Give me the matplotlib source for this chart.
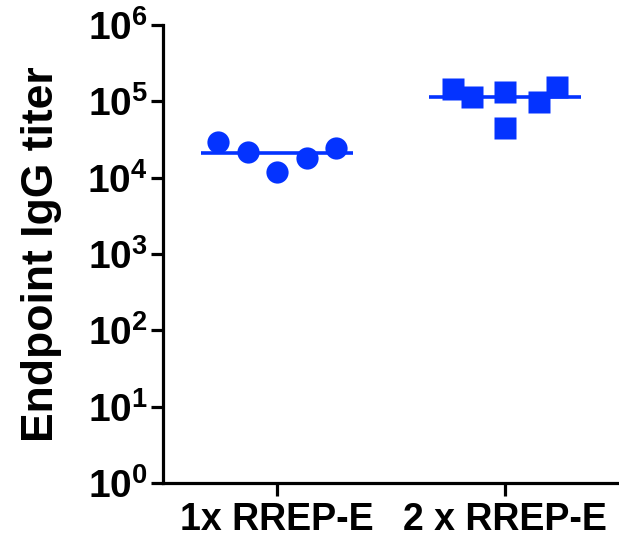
import numpy as np
import matplotlib
matplotlib.use("Agg")
import matplotlib.pyplot as plt
from matplotlib.ticker import FixedLocator, FixedFormatter, NullLocator

plt.rcParams['font.family'] = ['Liberation Sans', 'DejaVu Sans']
plt.rcParams['font.weight'] = 'bold'
plt.rcParams['mathtext.fontset'] = 'custom'
plt.rcParams['mathtext.rm'] = 'Liberation Sans:bold'
plt.rcParams['mathtext.it'] = 'Liberation Sans:bold'
plt.rcParams['mathtext.bf'] = 'Liberation Sans:bold'

#Categories and read-off values
groups = ["1x RREP-E", "2 x RREP-E"]
titer_1x = [29200, 21500, 11800, 18000, 24300]
titer_2x = [144500, 113500, 132000, 44500, 97700, 153600]
#Horizontal scatter offsets of points within each column
offset_1x = [-0.259, -0.127, 0.0, 0.132, 0.259]
offset_2x = [-0.228, -0.145, 0.0, 0.0, 0.149, 0.228]

blue = "#0433FF"

fig = plt.figure(figsize=(6.19, 5.39), dpi=100)
ax = fig.add_axes([163/619, 1 - 483/539, 1 - 163/619, (483 - 25)/539])

ax.plot(np.array(offset_1x) + 0, titer_1x, "o", color=blue, ms=16, mec="none", zorder=3)
ax.plot(np.array(offset_2x) + 1, titer_2x, "s", color=blue, ms=16.5, mec="none", zorder=3)

#Mean lines
for i, vals in enumerate([titer_1x, titer_2x]):
    m = np.mean(vals)
    ax.plot([i - 0.333, i + 0.333], [m, m], color=blue, lw=2.6, zorder=2, solid_capstyle="butt")

ax.set_yscale("log")
ax.set_ylim(1, 1e6)
ax.set_xlim(-0.5, 1.5)

decades = list(range(0, 7))
ax.yaxis.set_major_locator(FixedLocator([10.0**d for d in decades]))
ax.yaxis.set_major_formatter(FixedFormatter([r"$10^{%d}$" % d for d in decades]))
ax.yaxis.set_minor_locator(NullLocator())

ax.set_xticks([0, 1])
ax.set_xticklabels(groups, fontsize=27, fontweight="bold")

for s in ["top", "right"]:
    ax.spines[s].set_visible(False)
for s in ["left", "bottom"]:
    ax.spines[s].set_linewidth(2.3)

ax.tick_params(axis="y", labelsize=28, width=2.3, length=9, pad=2)
ax.tick_params(axis="x", width=2.3, length=9, pad=5)

ax.set_ylabel("Endpoint IgG titer", fontsize=32, fontweight="bold", labelpad=18)

fig.savefig("out.png", dpi=100)
